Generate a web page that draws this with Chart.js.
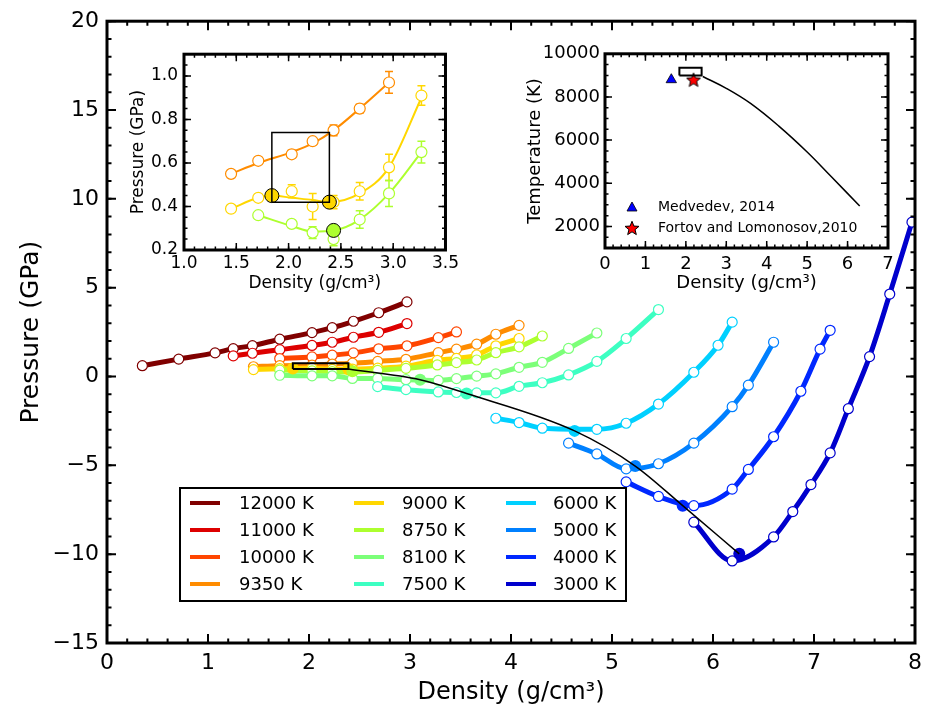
<!DOCTYPE html>
<html>
<head>
<meta charset="utf-8">
<script src="https://cdn.jsdelivr.net/npm/chart.js@4.4.1/dist/chart.umd.min.js"></script>
<style>
    body { margin: 0; background: #fff; }
    #wrap { position: relative; width: 929px; height: 720px; }
    canvas { position: absolute; }
    #main { left: 0; top: 0; }
    #inset-p { left: 118px; top: 38px; }
    #inset-t { left: 520px; top: 38px; }
</style>
</head>
<body>
<div id="wrap">
    <canvas id="main" width="929" height="720"></canvas>
    <canvas id="inset-p" width="344" height="262"></canvas>
    <canvas id="inset-t" width="380" height="262"></canvas>
</div>
<script>
// isotherms, density (g/cm3) vs pressure (GPa)
const labels = ["12000 K", "11000 K", "10000 K", "9350 K", "9000 K", "8750 K",
                "8100 K", "7500 K", "6000 K", "5000 K", "4000 K", "3000 K"];
const colors = ["#800000", "#dd0000", "#ff4500", "#ff8c00", "#ffd700", "#adff2f",
                "#7cff79", "#3dffc2", "#00d0ff", "#0080ff", "#0028ff", "#0000cd"];

const rho12000 = [0.35, 0.71, 1.07, 1.25, 1.44, 1.71, 2.03, 2.23, 2.44, 2.69, 2.97];
const p12000   = [0.61, 0.98, 1.33, 1.57, 1.74, 2.10, 2.47, 2.75, 3.11, 3.59, 4.20];
const rho11000 = [1.25, 1.44, 1.71, 2.03, 2.23, 2.44, 2.69, 2.97];
const p11000   = [1.16, 1.31, 1.51, 1.75, 1.93, 2.21, 2.49, 2.98];
const rho10000 = [1.71, 2.03, 2.23, 2.44, 2.69, 2.97, 3.28, 3.46];
const p10000   = [1.01, 1.10, 1.20, 1.33, 1.56, 1.73, 2.19, 2.51];
const rho9350  = [1.45, 1.71, 2.03, 2.23, 2.43, 2.68, 2.96, 3.28, 3.46, 3.66, 3.85, 4.08];
const p9350    = [0.55, 0.61, 0.64, 0.70, 0.75, 0.85, 0.97, 1.34, 1.54, 1.82, 2.38, 2.88];
const rho9000  = [1.45, 1.71, 2.03, 2.23, 2.43, 2.68, 2.96, 3.27, 3.46, 3.66, 3.85, 4.08];
const p9000    = [0.39, 0.44, 0.47, 0.40, 0.42, 0.47, 0.58, 0.91, 1.02, 1.21, 1.73, 2.14];
const rho8750  = [1.71, 2.03, 2.23, 2.43, 2.68, 2.96, 3.27, 3.46, 3.66, 3.85, 4.08, 4.31];
const p8750    = [0.36, 0.32, 0.28, 0.25, 0.34, 0.46, 0.65, 0.78, 0.93, 1.34, 1.67, 2.28];
const rho8100  = [1.71, 2.03, 2.23, 2.43, 2.68, 2.96, 3.28, 3.46, 3.66, 3.85, 4.08, 4.31, 4.57, 4.85];
const p8100    = [0.07, 0.04, 0.04, -0.11, -0.11, -0.18, -0.22, -0.12, 0.02, 0.15, 0.52, 0.80, 1.58, 2.45];
const rho7500  = [2.68, 2.96, 3.28, 3.46, 3.66, 3.85, 4.08, 4.31, 4.57, 4.85, 5.14, 5.46];
const p7500    = [-0.57, -0.74, -0.87, -0.90, -0.92, -0.92, -0.55, -0.35, 0.09, 0.85, 2.14, 3.77];
const rho6000  = [3.85, 4.08, 4.31, 4.85, 5.14, 5.46, 5.81, 6.05, 6.19];
const p6000    = [-2.35, -2.59, -2.91, -2.97, -2.63, -1.55, 0.24, 1.76, 3.06];
const rho5000  = [4.57, 4.85, 5.14, 5.46, 5.81, 6.19, 6.35, 6.60];
const p5000    = [-3.75, -4.36, -5.20, -4.91, -3.75, -1.70, -0.49, 1.93];
const rho4000  = [5.14, 5.46, 5.81, 6.19, 6.35, 6.60, 6.87, 7.06, 7.16];
const p4000    = [-5.93, -6.75, -7.27, -6.34, -5.23, -3.39, -0.83, 1.54, 2.60];
const rho3000  = [5.81, 6.19, 6.60, 6.79, 6.97, 7.16, 7.34, 7.55, 7.75, 7.97];
const p3000    = [-8.20, -10.38, -9.03, -7.60, -6.08, -4.30, -1.81, 1.12, 4.64, 8.69];

const curveRho = [rho12000, rho11000, rho10000, rho9350, rho9000, rho8750,
                  rho8100, rho7500, rho6000, rho5000, rho4000, rho3000];
const curvePressure = [p12000, p11000, p10000, p9350, p9000, p8750,
                       p8100, p7500, p6000, p5000, p4000, p3000];

// critical points (filled markers, black line)
const critRho = [2.39, 3.10, 3.56, 4.63, 5.23, 5.70, 6.26];
const critPressure = [0.42, -0.18, -0.96, -3.06, -5.04, -7.27, -9.98];
const critCurve = [4, 6, 7, 8, 9, 10, 11];

// temperature inset: boundary line
const boundaryRho  = [2.42, 3.00, 3.60, 4.30, 5.00, 5.60, 6.30];
const boundaryTemp = [8950, 8400, 7700, 6650, 5450, 4300, 2950];

// inset: extra filled points and uncertainty box
const fill9000Rho = [1.84, 2.39];
const fill9000P = [0.45, 0.42];
const fill8750Rho = [2.43];
const fill8750P = [0.29];
const boxRho = [1.84, 2.39];
const boxPressure = [0.42, 0.74];
const boxTemp = [9000, 9350];

// fitted curves of the pressure inset
const fit9350Rho = [1.45, 1.71, 2.03, 2.23, 2.43, 2.68, 2.96];
const fit9350P   = [0.55, 0.60, 0.65, 0.69, 0.75, 0.85, 0.97];
const fit9000Rho = [1.45, 1.71, 1.84, 2.03, 2.23, 2.39, 2.68, 2.96, 3.27];
const fit9000P   = [0.39, 0.44, 0.45, 0.44, 0.43, 0.42, 0.46, 0.58, 0.90];
const fit8750Rho = [1.71, 2.03, 2.23, 2.43, 2.68, 2.96, 3.27];
const fit8750P   = [0.36, 0.31, 0.285, 0.29, 0.34, 0.46, 0.65];

// inset error bars (GPa) and how many points each inset curve shows
const err9350 = [0.01, 0.012, 0.018, 0.015, 0.025, 0.02, 0.05];
const err9000 = [0.01, 0.015, 0.03, 0.06, 0.03, 0.04, 0.06, 0.045];
const err8750 = [0.01, 0.01, 0.027, 0.03, 0.04, 0.06, 0.05];
const insetCount = [7, 8, 7];

// reference points in temperature inset
const medvedevRho = [1.64], medvedevT = [8800];
const fortovRho = [2.19], fortovT = [8800];

const xTicksMain = [0, 1, 2, 3, 4, 5, 6, 7, 8];
const yTicksMain = [-15, -10, -5, 0, 5, 10, 15, 20];
const xTicksP = [1.0, 1.5, 2.0, 2.5, 3.0, 3.5];
const yTicksP = [0.2, 0.4, 0.6, 0.8, 1.0];
const xTicksT = [0, 1, 2, 3, 4, 5, 6, 7];
const yTicksT = [2000, 4000, 6000, 8000, 10000];

const FONT = "'DejaVu Sans', sans-serif";
Chart.defaults.font.family = FONT;
Chart.defaults.color = "#000";

function pts(xs, ys) {
    return xs.map((x, i) => ({ x: x, y: ys[i] }));
}

function minus(v) {
    return v < 0 ? "\u2212" + Math.abs(v) : String(v);
}

function starImage(size, fill) {
    const c = document.createElement("canvas");
    c.width = c.height = size;
    const g = c.getContext("2d");
    g.beginPath();
    for (let k = 0; k < 10; k++) {
	const r = k % 2 ? size * 0.2 : size * 0.46;
	const a = -Math.PI / 2 + k * Math.PI / 5;
	g.lineTo(size / 2 + r * Math.cos(a), size / 2 + r * Math.sin(a) + size * 0.04);
    }
    g.closePath();
    g.fillStyle = fill;
    g.fill();
    g.strokeStyle = "#000";
    g.lineWidth = 1;
    g.stroke();
    return c;
}
const star = starImage(16, "#ff0000");

// white axes face, inward ticks on all four sides, thick frame
const frameTicks = {
    id: "frameTicks",
    beforeDatasetsDraw(chart, args, o) {
	const a = chart.chartArea;
	chart.ctx.save();
	chart.ctx.fillStyle = "#fff";
	chart.ctx.fillRect(a.left, a.top, a.right - a.left, a.bottom - a.top);
	chart.ctx.restore();
    },
    afterDraw(chart, args, o) {
	const { ctx, chartArea: a, scales } = chart;
	const x = scales.x, y = scales.y;
	const steps = (min, max, step) => {
	    const out = [];
	    for (let k = Math.ceil(min / step - 1e-6); k * step <= max + 1e-6; k++) out.push(k * step);
	    return out;
	};
	ctx.save();
	ctx.strokeStyle = "#000";
	ctx.lineWidth = o.tickWidth;
	const drawX = (vals, len) => vals.forEach(v => {
	    const px = x.getPixelForValue(v);
	    ctx.beginPath();
	    ctx.moveTo(px, a.bottom); ctx.lineTo(px, a.bottom - len);
	    ctx.moveTo(px, a.top); ctx.lineTo(px, a.top + len);
	    ctx.stroke();
	});
	const drawY = (vals, len) => vals.forEach(v => {
	    const py = y.getPixelForValue(v);
	    ctx.beginPath();
	    ctx.moveTo(a.left, py); ctx.lineTo(a.left + len, py);
	    ctx.moveTo(a.right, py); ctx.lineTo(a.right - len, py);
	    ctx.stroke();
	});
	drawX(steps(x.min, x.max, o.xMinor), o.minor);
	drawY(steps(y.min, y.max, o.yMinor), o.minor);
	drawX(steps(x.min, x.max, o.xMajor), o.major);
	drawY(steps(y.min, y.max, o.yMajor), o.major);
	ctx.lineWidth = o.frameWidth;
	ctx.strokeRect(a.left, a.top, a.right - a.left, a.bottom - a.top);
	ctx.restore();
    }
};

const errorBars = {
    id: "errorBars",
    beforeDatasetsDraw(chart) {
	const { ctx, scales: { x, y } } = chart;
	ctx.save();
	chart.data.datasets.forEach(ds => {
	    if (!ds.errors) return;
	    ctx.strokeStyle = ds.pointBorderColor;
	    ctx.lineWidth = 1.5;
	    ds.data.forEach((pt, i) => {
		const e = ds.errors[i];
		if (!e) return;
		const px = x.getPixelForValue(pt.x);
		const y0 = y.getPixelForValue(pt.y - e);
		const y1 = y.getPixelForValue(pt.y + e);
		ctx.beginPath();
		ctx.moveTo(px, y0); ctx.lineTo(px, y1);
		ctx.moveTo(px - 4, y0); ctx.lineTo(px + 4, y0);
		ctx.moveTo(px - 4, y1); ctx.lineTo(px + 4, y1);
		ctx.stroke();
	    });
	});
	ctx.restore();
    }
};

const seriesLegend = {
    id: "seriesLegend",
    afterDraw(chart, args, o) {
	const ctx = chart.ctx;
	ctx.save();
	ctx.fillStyle = "#fff";
	ctx.fillRect(o.box[0], o.box[1], o.box[2], o.box[3]);
	ctx.lineWidth = 2;
	ctx.strokeStyle = "#000";
	ctx.strokeRect(o.box[0], o.box[1], o.box[2], o.box[3]);
	ctx.font = "18px " + FONT;
	ctx.textBaseline = "middle";
	labels.forEach((lab, i) => {
	    const col = Math.floor(i / 4), row = i % 4;
	    const yy = o.rowY[row];
	    ctx.strokeStyle = colors[i];
	    ctx.lineWidth = 4;
	    ctx.beginPath();
	    ctx.moveTo(o.lineX[col], yy);
	    ctx.lineTo(o.lineX[col] + 30, yy);
	    ctx.stroke();
	    ctx.fillStyle = "#000";
	    ctx.fillText(lab, o.textX[col], yy + 1);
	});
	ctx.restore();
    }
};

const refLegend = {
    id: "refLegend",
    afterDraw(chart, args, o) {
	const ctx = chart.ctx;
	ctx.save();
	ctx.font = "14px " + FONT;
	ctx.textBaseline = "middle";
	ctx.fillStyle = "#000";
	ctx.fillText("Medvedev, 2014", o.textX, o.rowY[0]);
	ctx.fillText("Fortov and Lomonosov,2010", o.textX, o.rowY[1]);
	const mx = o.markX, my = o.rowY[0];
	ctx.beginPath();
	ctx.moveTo(mx, my - 5); ctx.lineTo(mx + 5, my + 4); ctx.lineTo(mx - 5, my + 4);
	ctx.closePath();
	ctx.fillStyle = "#0000ff";
	ctx.fill();
	ctx.lineWidth = 0.8;
	ctx.strokeStyle = "#000";
	ctx.stroke();
	ctx.drawImage(star, mx - 8, o.rowY[1] - 8);
	ctx.restore();
    }
};

function axis(min, max, tickVals, fmt, fontSize, pad, size, title, titleSize, titlePad, horizontal) {
    return {
	type: "linear",
	min: min,
	max: max,
	afterBuildTicks: s => { s.ticks = tickVals.map(v => ({ value: v })); },
	afterFit: s => { if (horizontal) s.height = size; else s.width = size; },
	grid: { display: false, drawTicks: false },
	border: { display: false },
	ticks: { font: { size: fontSize }, color: "#000", padding: pad, autoSkip: false, maxRotation: 0, callback: fmt },
	title: { display: true, text: title, color: "#000", font: { size: titleSize }, padding: titlePad }
    };
}

function boxPoints(xs, ys) {
    return pts([xs[0], xs[1], xs[1], xs[0], xs[0]], [ys[0], ys[0], ys[1], ys[1], ys[0]]);
}

// ---- main chart ----
const mainSets = labels.map((lab, i) => ({
    label: lab,
    data: pts(curveRho[i], curvePressure[i]),
    borderColor: colors[i],
    borderWidth: 5,
    cubicInterpolationMode: "monotone",
    pointRadius: 5,
    pointBorderWidth: 1.2,
    pointBackgroundColor: "#fff",
    pointBorderColor: colors[i],
    order: 40 - i,
}));

mainSets.push({
    label: "critical",
    data: pts(critRho, critPressure).concat(pts(fill9000Rho, fill9000P), pts(fill8750Rho, fill8750P)),
    showLine: false,
    pointRadius: 6,
    pointBorderWidth: 0,
    pointBackgroundColor: critCurve.map(c => colors[c]).concat([colors[4], colors[4], colors[5]]),
    order: 5,
});
mainSets.push({
    label: "boundary",
    data: pts(critRho, critPressure),
    borderColor: "#000",
    borderWidth: 1.5,
    cubicInterpolationMode: "monotone",
    pointRadius: 0,
    order: 2,
});
mainSets.push({
    label: "box",
    data: boxPoints(boxRho, boxPressure),
    borderColor: "#000",
    borderWidth: 2,
    tension: 0,
    pointRadius: 0,
    order: 1,
});

new Chart(document.getElementById("main"), {
    type: "line",
    data: { datasets: mainSets },
    options: {
	responsive: false,
	animation: false,
	events: [],
	layout: { padding: { top: 14, right: 11, left: 0, bottom: 0 } },
	plugins: {
	    legend: { display: false },
	    tooltip: { enabled: false },
	    frameTicks: { xMajor: 1, xMinor: 0.2, yMajor: 5, yMinor: 1, major: 9, minor: 4.5, tickWidth: 2, frameWidth: 3 },
	    seriesLegend: { box: [180, 488, 446, 113], lineX: [190, 354, 506], textX: [239, 402, 553], rowY: [503, 530, 557, 584] }
	},
	scales: {
	    x: axis(0, 8, xTicksMain, minus, 22, 7, 77, "Density (g/cm\u00b3)", 24, { top: 0, bottom: 13 }, true),
	    y: axis(-15, 20, yTicksMain, minus, 22, 8, 107, "Pressure (GPa)", 25, { top: 16, bottom: 0 }, false)
	}
    },
    plugins: [frameTicks, seriesLegend]
});

// ---- pressure inset ----
const insetCurves = [3, 4, 5];
const insetErrors = [err9350, err9000, err8750];
const insetFitRho = [fit9350Rho, fit9000Rho, fit8750Rho];
const insetFitP = [fit9350P, fit9000P, fit8750P];
const pSets = [];
insetCurves.forEach((c, k) => {
    pSets.push({
	label: labels[c] + " fit",
	data: pts(insetFitRho[k], insetFitP[k]),
	borderColor: colors[c],
	borderWidth: 2,
	cubicInterpolationMode: "monotone",
	pointRadius: 0,
	order: 30 - k,
    });
    pSets.push({
	label: labels[c],
	data: pts(curveRho[c].slice(0, insetCount[k]), curvePressure[c].slice(0, insetCount[k])),
	errors: insetErrors[k],
	showLine: false,
	pointRadius: 5.5,
	pointBorderWidth: 1.2,
	pointBackgroundColor: "#fff",
	pointBorderColor: colors[c],
	order: 20 - k,
    });
});
pSets.push({
    label: "filled",
    data: pts(fill9000Rho, fill9000P).concat(pts(fill8750Rho, fill8750P)),
    showLine: false,
    pointRadius: 7,
    pointBorderWidth: 1,
    pointBorderColor: "#000",
    pointBackgroundColor: [colors[4], colors[4], colors[5]],
    order: 3,
});
pSets.push({
    label: "box",
    data: boxPoints(boxRho, boxPressure),
    borderColor: "#000",
    borderWidth: 1.5,
    tension: 0,
    pointRadius: 0,
    order: 1,
});

new Chart(document.getElementById("inset-p"), {
    type: "line",
    data: { datasets: pSets },
    options: {
	responsive: false,
	animation: false,
	events: [],
	layout: { padding: { top: 15, right: 16, left: 0, bottom: 0 } },
	plugins: {
	    legend: { display: false },
	    tooltip: { enabled: false },
	    frameTicks: { xMajor: 0.5, xMinor: 0.1, yMajor: 0.2, yMinor: 0.05, major: 7, minor: 3.5, tickWidth: 1.5, frameWidth: 3 }
	},
	scales: {
	    x: axis(1.0, 3.5, xTicksP, v => v.toFixed(1), 17, 3, 50, "Density (g/cm\u00b3)", 17, { top: 0, bottom: 6 }, true),
	    y: axis(0.2, 1.1, yTicksP, v => v.toFixed(1), 17, 6, 66, "Pressure (GPa)", 17, { top: 10, bottom: 0 }, false)
	}
    },
    plugins: [frameTicks, errorBars]
});

// ---- temperature inset ----
new Chart(document.getElementById("inset-t"), {
    type: "line",
    data: {
	datasets: [
	    {
		label: "boundary",
		data: pts(boundaryRho, boundaryTemp),
		borderColor: "#000",
		borderWidth: 1.5,
		tension: 0.4,
		pointRadius: 0,
	    },
	    {
		label: "box",
		data: boxPoints(boxRho, boxTemp),
		borderColor: "#000",
		borderWidth: 2,
		tension: 0,
		pointRadius: 0,
	    },
	    {
		label: "Medvedev, 2014",
		data: pts(medvedevRho, medvedevT),
		showLine: false,
		pointStyle: "triangle",
		pointRadius: 6,
		pointBorderWidth: 0.8,
		pointBorderColor: "#000",
		pointBackgroundColor: "#0000ff",
	    },
	    {
		label: "Fortov and Lomonosov,2010",
		data: pts(fortovRho, fortovT),
		showLine: false,
		pointStyle: star,
	    }
	]
    },
    options: {
	responsive: false,
	animation: false,
	events: [],
	layout: { padding: { top: 15, right: 12, left: 0, bottom: 0 } },
	plugins: {
	    legend: { display: false },
	    tooltip: { enabled: false },
	    frameTicks: { xMajor: 1, xMinor: 0.2, yMajor: 2000, yMinor: 500, major: 7, minor: 3.5, tickWidth: 1.5, frameWidth: 3 },
	    refLegend: { markX: 112, textX: 138, rowY: [169, 190] }
	},
	scales: {
	    x: axis(0, 7, xTicksT, String, 18, 6, 52, "Density (g/cm\u00b3)", 18, { top: 0, bottom: 6 }, true),
	    y: axis(1000, 10000, yTicksT, String, 18, 5, 85, "Temperature (K)", 18, { top: 5, bottom: 0 }, false)
	}
    },
    plugins: [frameTicks, refLegend]
});
</script>
</body>
</html>
